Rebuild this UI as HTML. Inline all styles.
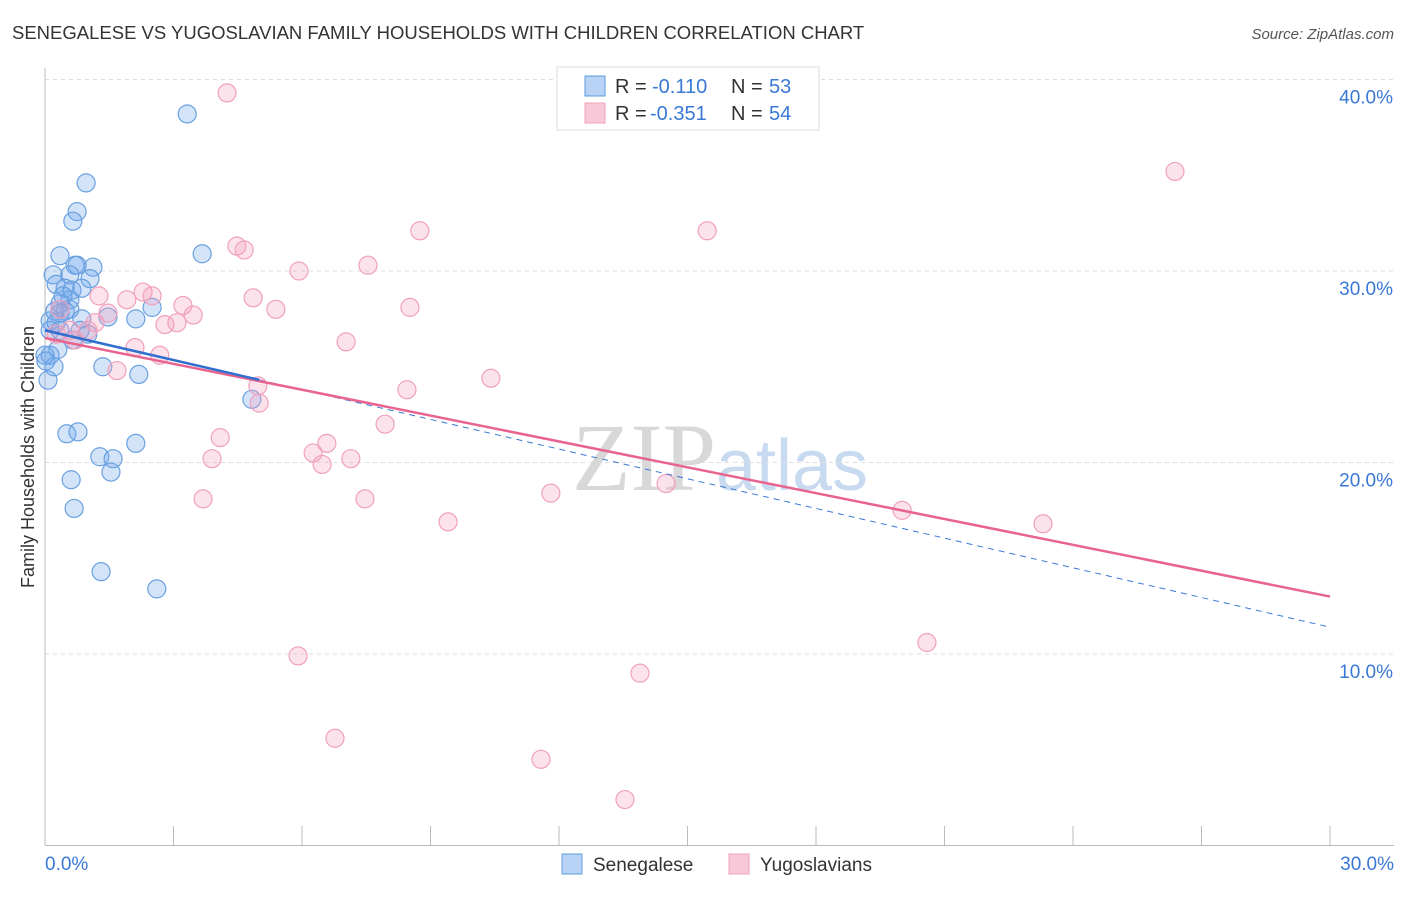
<!DOCTYPE html>
<html><head><meta charset="utf-8"><style>
body{margin:0;background:#fff;font-family:"Liberation Sans",sans-serif}
</style></head><body>
<svg width="1406" height="892" xmlns="http://www.w3.org/2000/svg" id="chart" font-family="Liberation Sans, sans-serif">
<text x="12" y="39" font-size="18.5" fill="#333">SENEGALESE VS YUGOSLAVIAN FAMILY HOUSEHOLDS WITH CHILDREN CORRELATION CHART</text>
<text x="1394" y="39" font-size="15" fill="#555" font-style="italic" text-anchor="end">Source: ZipAtlas.com</text>
<text x="720" y="490" font-size="96" fill="#d8d8d8" text-anchor="middle" font-family="Liberation Serif, serif">ZIP<tspan fill="#c8daf0" font-family="Liberation Sans, sans-serif" font-size="72">atlas</tspan></text>
<text transform="translate(34,457) rotate(-90)" font-size="18" fill="#333" text-anchor="middle">Family Households with Children</text>
<g id="grid"></g><g id="axes"></g><g id="marks"></g>
<g>
<rect x="557" y="67" width="262" height="63" fill="#fff" stroke="#ddd"/>
<rect x="585" y="76" width="20" height="20" fill="#b8d3f5" stroke="#5b9bdf"/>
<text x="615" y="93" font-size="20" fill="#333">R =</text>
<text x="652" y="93" font-size="20" fill="#3a78d6">-0.110</text>
<text x="731" y="93" font-size="20" fill="#333">N =</text>
<text x="769" y="93" font-size="20" fill="#3a78d6">53</text>
<rect x="585" y="103" width="20" height="20" fill="#f9c8d8" stroke="#f0a0bc"/>
<text x="615" y="120" font-size="20" fill="#333">R =</text>
<text x="650" y="120" font-size="20" fill="#3a78d6">-0.351</text>
<text x="731" y="120" font-size="20" fill="#333">N =</text>
<text x="769" y="120" font-size="20" fill="#3a78d6">54</text>
</g>
<g>
<rect x="562" y="854" width="20" height="20" fill="#b8d3f5" stroke="#5b9bdf"/>
<text x="593" y="871" font-size="19" fill="#333">Senegalese</text>
<rect x="729" y="854" width="20" height="20" fill="#f9c8d8" stroke="#f0a0bc"/>
<text x="760" y="871" font-size="19" fill="#333">Yugoslavians</text>
</g>
</svg>
<script>
const xTicks=[0,3,6,9,12,15,18,21,24,27,30];
const yTicks=[10,20,30,40];
const blueX=[3.32,0.96,0.75,0.65,0.35,3.67,0.19,0.70,0.75,1.12,0.58,1.05,0.26,0.47,0.63,0.86,0.42,0.58,0.35,0.23,0.35,0.47,0.58,0.12,0.26,0.86,1.47,2.12,2.50,1.00,0.65,0.30,0.12,0.02,0.21,1.35,2.19,0.07,4.83,0.51,0.77,2.12,1.28,1.59,1.54,0.61,0.68,1.31,2.61,0.12,0.35,0.82,0];
const blueY=[38.2,34.6,33.1,32.6,30.8,30.9,29.8,30.3,30.3,30.2,29.8,29.6,29.3,29.1,29.0,29.1,28.7,28.5,28.3,27.9,27.8,27.9,28.0,27.4,27.3,27.5,27.6,27.5,28.1,26.7,26.4,25.9,25.6,25.3,25.0,25.0,24.6,24.3,23.3,21.5,21.6,21.0,20.3,20.2,19.5,19.1,17.6,14.3,13.4,26.9,26.9,26.9,25.6];
const pinkX=[4.25,26.38,8.75,15.46,4.48,4.65,5.93,7.54,4.86,1.26,1.91,2.29,2.50,3.22,5.39,8.52,1.47,3.46,2.80,3.08,1.17,0.58,0.26,1.00,7.03,2.10,2.68,1.68,4.97,8.45,10.41,5.00,7.94,4.09,6.58,6.26,3.90,6.47,7.14,3.69,7.47,9.41,11.81,14.50,20.01,23.30,20.59,5.91,13.89,6.77,11.58,13.54,0.35,0.70];
const pinkY=[39.3,35.2,32.1,32.1,31.3,31.1,30.0,30.3,28.6,28.7,28.5,28.9,28.7,28.2,28.0,28.1,27.8,27.7,27.2,27.3,27.3,26.9,26.7,26.9,26.3,26.0,25.6,24.8,24.0,23.8,24.4,23.1,22.0,21.3,21.0,20.5,20.2,19.9,20.2,18.1,18.1,16.9,18.4,18.9,17.5,16.8,10.6,9.9,9.0,5.6,4.5,2.4,28.0,26.4];
const blueTrend=[26.9,11.4];
const blueSolidEnd=5.0;
const pinkTrend=[26.5,13.0];
const NS="http://www.w3.org/2000/svg";
const X0=45,X1=1330,Y0=845.5,YS=19.15;
function sx(v){return X0+(v/30)*(X1-X0);}
function sy(v){return Y0-v*YS;}
function mk(t,a,p){const e=document.createElementNS(NS,t);for(const k in a)e.setAttribute(k,a[k]);document.getElementById(p).appendChild(e);return e;}
yTicks.forEach(t=>{
 const l=mk('line',{x1:45,x2:1394,y1:sy(t),y2:sy(t),stroke:'#ddd','stroke-dasharray':'4,4'},'grid');
 
 
 const tx=mk('text',{x:1393,y:sy(t)+24,'font-size':19,fill:'#3a78d6','text-anchor':'end'},'axes');
 tx.textContent=t.toFixed(1)+'%';
 
 
});
const ax=mk('line',{x1:45,x2:1394,y1:845.5,y2:845.5,stroke:'#bbb'},'axes');


const ay=mk('line',{x1:45,x2:45,y1:68,y2:845.5,stroke:'#bbb'},'axes');


xTicks.forEach(t=>{
 const l=mk('line',{x1:sx(t),x2:sx(t),y1:826,y2:845.5,stroke:'#bbb'},'axes');
 
 
});
[[0,'start',45],[30,'end',1394]].forEach(([t,a,x])=>{
 const tx=mk('text',{x:x,y:870,'font-size':19,fill:'#3a78d6','text-anchor':a},'axes');
 tx.textContent=t.toFixed(1)+'%';
 
 
});
blueX.forEach((v,i)=>{
 const c=mk('circle',{cx:sx(v),cy:sy(blueY[i]),r:9,fill:'rgba(110,165,235,0.3)',stroke:'#6aa0e0','stroke-width':1.2},'marks');
 
 
});
pinkX.forEach((v,i)=>{
 const c=mk('circle',{cx:sx(v),cy:sy(pinkY[i]),r:9,fill:'rgba(245,160,190,0.3)',stroke:'#f0a0bc','stroke-width':1.2},'marks');
 
 
});
function by(x){return blueTrend[0]+(blueTrend[1]-blueTrend[0])*x/30;}
const bd=mk('line',{x1:sx(blueSolidEnd),y1:sy(by(blueSolidEnd)),x2:sx(30),y2:sy(blueTrend[1]),stroke:'#3a78d6','stroke-width':1,'stroke-dasharray':'6,5'},'marks');


const pl=mk('line',{x1:sx(0),y1:sy(pinkTrend[0]),x2:sx(30),y2:sy(pinkTrend[1]),stroke:'#e8648e','stroke-width':2.5},'marks');


const bl=mk('line',{x1:sx(0),y1:sy(blueTrend[0]),x2:sx(blueSolidEnd),y2:sy(by(blueSolidEnd)),stroke:'#2f6fd0','stroke-width':2.5},'marks');


</script>
</body></html>
